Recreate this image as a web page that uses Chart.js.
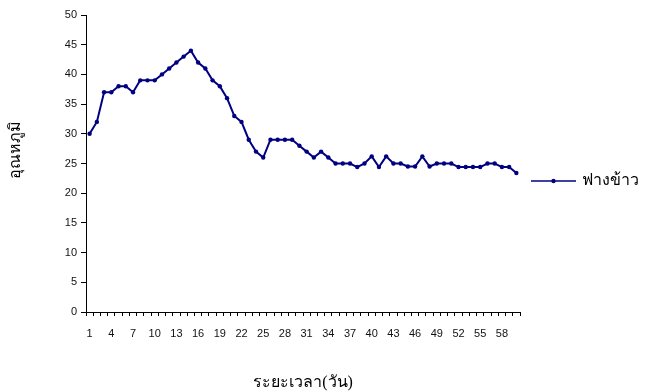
<!DOCTYPE html>
<html>
<head>
<meta charset="utf-8">
<script src="https://cdn.jsdelivr.net/npm/chart.js@4/dist/chart.umd.min.js"></script>
<style>
  html, body { margin: 0; padding: 0; background: #fff; }
</style>
</head>
<body>
<canvas id="chart" width="651" height="392"></canvas>
<script>
const days = ['1','2','3','4','5','6','7','8','9','10',
              '11','12','13','14','15','16','17','18','19','20',
              '21','22','23','24','25','26','27','28','29','30',
              '31','32','33','34','35','36','37','38','39','40',
              '41','42','43','44','45','46','47','48','49','50',
              '51','52','53','54','55','56','57','58','59','60'];

const shownDays = ['1','4','7','10','13','16','19','22','25','28',
                   '31','34','37','40','43','46','49','52','55','58'];

const strawTemp = [30, 32, 37, 37, 38, 38, 37, 39, 39, 39,
                   40, 41, 42, 43, 44, 42, 41, 39, 38, 36,
                   33, 32, 29, 27, 26, 29, 29, 29, 29, 28,
                   27, 26, 27, 26, 25, 25, 25, 24.4, 25, 26.2,
                   24.4, 26.2, 25, 25, 24.5, 24.5, 26.2, 24.5, 25, 25,
                   25, 24.4, 24.4, 24.4, 24.4, 25, 25, 24.4, 24.4, 23.4];

const seriesName = 'ฟางข้าว';
const yTitle = 'อุณหภูมิ';
const xTitle = 'ระยะเวลา(วัน)';

const thaiFont = "'Liberation Serif', 'DejaVu Serif', serif";
const tickFont = "'Liberation Sans', Arial, sans-serif";

// legend and y title drawn Excel style: short line with a dot in the middle
const sideLegend = {
  id: 'sideLegend',
  afterDraw(chart) {
    const ctx = chart.ctx;
    const ds = chart.data.datasets[0];
    const x0 = 531, y0 = 181;
    ctx.save();
    ctx.strokeStyle = ds.borderColor;
    ctx.lineWidth = 1.5;
    ctx.beginPath();
    ctx.moveTo(x0, y0);
    ctx.lineTo(x0 + 45, y0);
    ctx.stroke();
    ctx.fillStyle = ds.borderColor;
    ctx.beginPath();
    ctx.arc(x0 + 22.5, y0, 2.2, 0, Math.PI * 2);
    ctx.fill();
    ctx.fillStyle = '#000';
    ctx.font = '16px ' + thaiFont;
    ctx.textBaseline = 'middle';
    ctx.fillText(ds.label, x0 + 51, y0);

    // y title, a bit above the axis middle like the original
    ctx.translate(16, 150);
    ctx.rotate(-Math.PI / 2);
    ctx.textAlign = 'center';
    ctx.fillText(yTitle, 0, 0);
    ctx.restore();
  }
};

new Chart(document.getElementById('chart'), {
  type: 'line',
  data: {
    labels: days,
    datasets: [{
      label: seriesName,
      data: strawTemp,
      borderColor: '#000080',
      backgroundColor: '#000080',
      borderWidth: 2,
      pointRadius: 2.2,
      pointBorderWidth: 0,
      tension: 0
    }]
  },
  options: {
    responsive: false,
    animation: false,
    layout: { padding: { top: 15, right: 131, left: 0, bottom: 0 } },
    plugins: {
      legend: { display: false },
      tooltip: { enabled: false }
    },
    scales: {
      x: {
        offset: true,
        afterFit: s => { s.height = 80; },
        grid: {
          offset: true,
          drawOnChartArea: false,
          tickLength: 4,
          color: '#000'
        },
        border: { color: '#000' },
        ticks: {
          autoSkip: false,
          maxRotation: 0,
          padding: 11,
          color: '#111',
          font: { family: tickFont, size: 11 },
          callback: (v, i) => shownDays.includes(days[i]) ? days[i] : ''
        },
        title: {
          display: true,
          text: xTitle,
          color: '#000',
          font: { family: thaiFont, size: 16 },
          padding: { top: 0, bottom: 0 }
        }
      },
      y: {
        min: 0,
        max: 50,
        afterFit: s => { s.width = 86; },
        grid: {
          drawOnChartArea: false,
          tickLength: 5,
          color: '#000'
        },
        border: { color: '#000' },
        ticks: {
          stepSize: 5,
          padding: 4,
          color: '#111',
          font: { family: tickFont, size: 11 }
        }
      }
    }
  },
  plugins: [sideLegend]
});
</script>
</body>
</html>
